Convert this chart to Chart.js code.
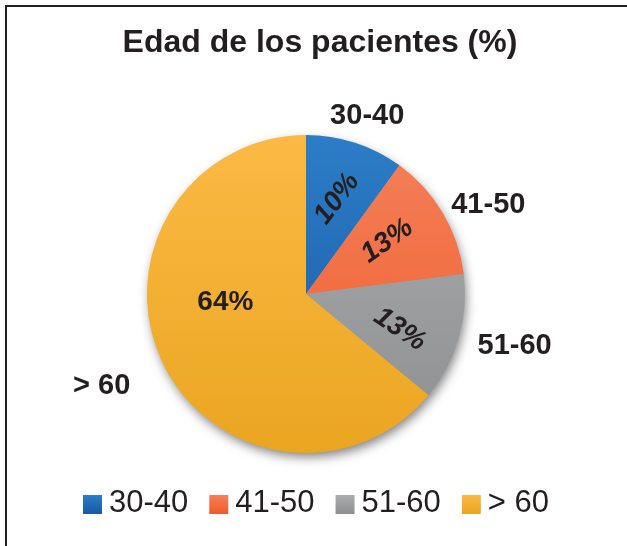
<!DOCTYPE html>
<html>
<head>
<meta charset="utf-8">
<script src="https://cdn.jsdelivr.net/npm/chart.js@4"></script>
<style>
  html, body { margin: 0; padding: 0; background: #fff; overflow: hidden; }
  #wrap { position: relative; width: 627px; height: 546px; }
  #frame { position: absolute; left: 5px; top: 5px; width: 640px; height: 560px;
           border-top: 2px solid #231f20; border-left: 2px solid #231f20; pointer-events: none; }
</style>
</head>
<body>
<div id="wrap">
  <canvas id="chart" width="627" height="546"></canvas>
  <div id="frame"></div>
</div>
<script>
const chartTitle = 'Edad de los pacientes (%)';
const categories = ['30-40', '41-50', '51-60', '> 60'];
const percentages = [10, 13, 13, 64];

// slice colours, top and bottom of the gradient
const topColors = ['#2c7dc7', '#f5805a', '#abadaf', '#fcb945'];
const bottomColors = ['#1957a3', '#ee5c2a', '#8c8e90', '#eaa620'];

// label placement (degrees / fractions of the radius)
const insideShift = [0, -2.5, 4.5, 19];
const insideDist = [0.63, 0.61, 0.63, 0.51];
const insideRot = [-53, -35, 34, 0];
const outsideShift = [1, 4.5, -2.2, 1];
const outsideGap = [29, 44, 56, 65];

const FONT = '"Liberation Sans", Arial, Helvetica, sans-serif';
const INK = '#231f20';

const sliceGradient = (ctx) => {
  const area = ctx.chart.chartArea;
  const i = ctx.dataIndex;
  if (!area) return topColors[i];
  const g = ctx.chart.ctx.createLinearGradient(0, area.top, 0, area.bottom);
  g.addColorStop(0, topColors[i]);
  g.addColorStop(1, bottomColors[i]);
  return g;
};

const pieDecor = {
  id: 'pieDecor',
  beforeDatasetsDraw(chart) {
    const arc = chart.getDatasetMeta(0).data[0];
    if (!arc) return;
    const {x, y, outerRadius} = arc.getProps(['x', 'y', 'outerRadius'], true);
    const ctx = chart.ctx;
    ctx.save();
    ctx.shadowColor = 'rgba(0,0,0,0.5)';
    ctx.shadowBlur = 11;
    ctx.shadowOffsetX = 2;
    ctx.shadowOffsetY = 5;
    ctx.fillStyle = '#999';
    ctx.beginPath();
    ctx.arc(x, y, outerRadius - 1, 0, Math.PI * 2);
    ctx.fill();
    ctx.restore();
  },
  afterDatasetsDraw(chart) {
    const ctx = chart.ctx;
    const meta = chart.getDatasetMeta(0);
    ctx.save();
    ctx.fillStyle = INK;
    ctx.textAlign = 'center';
    ctx.textBaseline = 'middle';
    meta.data.forEach((arc, i) => {
      const {x, y, startAngle, endAngle, outerRadius} =
        arc.getProps(['x', 'y', 'startAngle', 'endAngle', 'outerRadius'], true);
      const mid = (startAngle + endAngle) / 2;

      // value inside the slice
      const a = mid + insideShift[i] * Math.PI / 180;
      const d = outerRadius * insideDist[i];
      ctx.save();
      ctx.translate(x + d * Math.cos(a), y + d * Math.sin(a));
      ctx.rotate(insideRot[i] * Math.PI / 180);
      ctx.font = (insideRot[i] ? 'italic ' : '') + 'bold 28px ' + FONT;
      ctx.fillText(percentages[i] + '%', 0, 0);
      ctx.restore();

      // category outside the slice
      const b = mid + outsideShift[i] * Math.PI / 180;
      const r = outerRadius + outsideGap[i];
      ctx.font = 'bold 29px ' + FONT;
      ctx.fillText(categories[i], x + r * Math.cos(b), y + r * Math.sin(b));
    });
    ctx.restore();
  },
  afterDraw(chart) {
    const ctx = chart.ctx;
    ctx.save();
    ctx.fillStyle = INK;
    // title
    ctx.font = 'bold 32px ' + FONT;
    ctx.textAlign = 'center';
    ctx.textBaseline = 'alphabetic';
    ctx.fillText(chartTitle, 320, 52);

    // legend
    ctx.font = '31px ' + FONT;
    ctx.textAlign = 'left';
    const box = 19, gapIn = 7, gapOut = 21;
    const widths = categories.map(c => ctx.measureText(c).width);
    const total = widths.reduce((s, w) => s + box + gapIn + w, 0) + gapOut * (categories.length - 1);
    let lx = 316 - total / 2;
    categories.forEach((c, i) => {
      const g = ctx.createLinearGradient(0, 495, 0, 495 + box);
      g.addColorStop(0, topColors[i]);
      g.addColorStop(1, bottomColors[i]);
      ctx.fillStyle = g;
      ctx.fillRect(lx, 495, box, box);
      ctx.fillStyle = INK;
      ctx.fillText(c, lx + box + gapIn, 512);
      lx += box + gapIn + widths[i] + gapOut;
    });
    ctx.restore();
  }
};

new Chart(document.getElementById('chart'), {
  type: 'pie',
  data: {
    labels: categories,
    datasets: [{
      data: percentages,
      backgroundColor: sliceGradient,
      borderWidth: 0
    }]
  },
  options: {
    responsive: false,
    animation: false,
    layout: { padding: { left: 147, right: 162, top: 135, bottom: 93 } },
    plugins: {
      legend: { display: false },
      title: { display: false },
      tooltip: { enabled: false }
    }
  },
  plugins: [pieDecor]
});
</script>
</body>
</html>
